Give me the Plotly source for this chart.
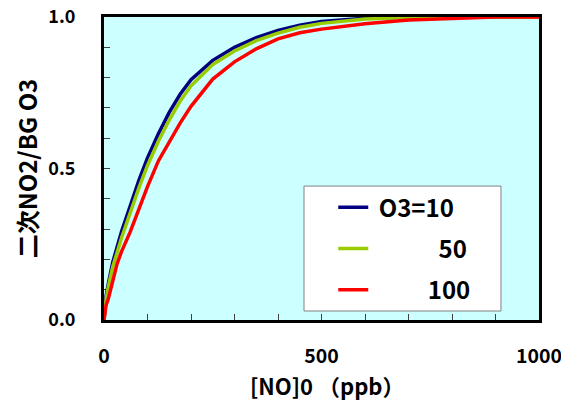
import plotly.graph_objects as go

# ---- data ----
no0_blue = [0, 5, 10, 20, 40, 60, 80, 100, 125, 150, 175, 200, 250, 300, 350, 400, 450, 500, 600, 700, 800, 900, 1000]
ratio_o3_10 = [0.0, 0.08, 0.12, 0.19, 0.29, 0.375, 0.46, 0.535, 0.615, 0.685, 0.745, 0.793, 0.857, 0.9, 0.932, 0.956, 0.973, 0.985, 0.996, 1.0, 1.0, 1.0, 1.0]

no0_green = [0, 5, 10, 20, 40, 60, 80, 100, 125, 150, 175, 200, 250, 300, 350, 400, 450, 500, 600, 700, 800, 900, 1000]
ratio_o3_50 = [0.0, 0.07, 0.11, 0.175, 0.27, 0.355, 0.435, 0.51, 0.59, 0.66, 0.722, 0.773, 0.843, 0.888, 0.922, 0.947, 0.966, 0.979, 0.993, 0.999, 1.0, 1.0, 1.0]

no0_red = [0, 5, 10, 20, 30, 40, 60, 80, 100, 125, 150, 175, 200, 250, 300, 350, 400, 450, 500, 550, 600, 700, 800, 900, 1000]
ratio_o3_100 = [0.0, 0.05, 0.07, 0.13, 0.185, 0.225, 0.29, 0.365, 0.44, 0.525, 0.59, 0.65, 0.705, 0.795, 0.852, 0.895, 0.928, 0.948, 0.96, 0.97, 0.978, 0.99, 0.996, 1.0, 1.0]

NB = "\u00a0"
series_names = [NB + "O3=10", NB * 12 + "50", NB * 10 + "100"]
series_colors = ["#000080", "#99CC00", "#FF0000"]

x_tick_vals = list(range(0, 1001, 100))
x_tick_text = ["0", "", "", "", "", "500", "", "", "", "", "1000"]
y_tick_vals = [i / 10 for i in range(11)]
y_tick_text = ["0.0", "", "", "", "", "0.5", "", "", "", "", "1.0"]

x_title = "[NO]0 （ppb）"
y_title = "二次NO2/BG O3"

FONT = "Noto Sans CJK JP"

fig = go.Figure()
for xs, ys, name, col, grp in [
    (no0_blue, ratio_o3_10, series_names[0], series_colors[0], "a"),
    (no0_green, ratio_o3_50, series_names[1], series_colors[1], "b"),
    (no0_red, ratio_o3_100, series_names[2], series_colors[2], "c"),
]:
    fig.add_trace(go.Scatter(x=xs, y=ys, mode="lines", name=name, legendgroup=grp,
                             line=dict(color=col, width=3.5)))

# legend box
fig.add_shape(type="rect", xref="paper", yref="paper",
              x0=0.4598, x1=0.9126, y0=0.0297, y1=0.442,
              fillcolor="white", line=dict(color="#808080", width=1), layer="above")

# x-axis title (placed as annotation to match the reference's slight offset)
fig.add_annotation(text=x_title, xref="paper", yref="paper", x=0.514, y=-0.2145,
                   xanchor="center", yanchor="middle", showarrow=False,
                   font=dict(family=FONT, size=22, weight="bold", color="black"))

fig.update_layout(
    width=561, height=406,
    margin=dict(l=104, r=22, t=17, b=86, autoexpand=False),
    paper_bgcolor="white", plot_bgcolor="#CCFFFF",
    font=dict(family=FONT, color="black"),
    showlegend=True,
    legend=dict(x=0.527, xanchor="left", y=0.445, yanchor="top",
                bgcolor="rgba(0,0,0,0)", borderwidth=0,
                font=dict(family=FONT, size=24, weight="bold", color="black"),
                tracegroupgap=7, traceorder="grouped"),
    xaxis=dict(range=[0, 1000], tickvals=x_tick_vals, ticktext=x_tick_text,
               ticks="inside", ticklen=6, tickwidth=1, tickcolor="#404040",
               showline=True, linewidth=3, linecolor="black", mirror=True,
               showgrid=False, zeroline=False, layer="below traces",
               automargin=False, ticklabeloverflow="allow",
               tickfont=dict(family=FONT, size=19.5, weight="bold"), ticklabelstandoff=17),
    yaxis=dict(range=[0, 1], tickvals=y_tick_vals, ticktext=y_tick_text,
               ticks="inside", ticklen=6, tickwidth=1, tickcolor="#404040",
               showline=True, linewidth=3, linecolor="black", mirror=True,
               showgrid=False, zeroline=False, layer="below traces",
               automargin=False, ticklabeloverflow="allow",
               tickfont=dict(family=FONT, size=18, weight="bold"), ticklabelstandoff=22,
               title=dict(text=y_title, font=dict(family=FONT, size=24, weight="bold"), standoff=4)),
)

fig.write_html("out.html")
